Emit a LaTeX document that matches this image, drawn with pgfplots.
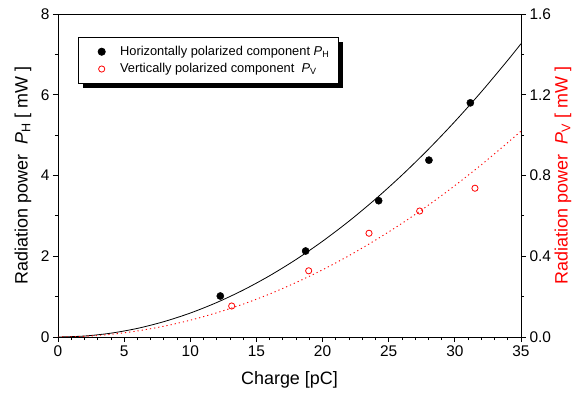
\documentclass[border=0pt]{standalone}
\usepackage{fontspec}
\setmainfont{Liberation Sans}
\usepackage{pgfplots}
\pgfplotsset{compat=1.18}
\usetikzlibrary{shadows}
\begin{document}
\begin{tikzpicture}
\useasboundingbox (-58bp,-57bp) rectangle (514bp,337bp);
\pgfplotsset{
  common/.style={
    scale only axis, width=463bp, height=323bp,
    at={(0,0)}, anchor=south west,
    xmin=0, xmax=35,
    tick align=outside,
    major tick length=5bp, minor tick length=3bp,
    tick label style={font=\fontsize{15.5}{17}\selectfont},
    label style={font=\fontsize{18}{21}\selectfont},
    /pgf/number format/assume math mode=true,
    axis line style={line width=0.8bp},
    every tick/.style={black, line width=0.8bp},
  },
  mylegimg/.style={legend image code/.code={\path (0bp,0bp) (32bp,0bp); \draw[only marks] plot coordinates {(17bp,0bp)};}},
}
\begin{axis}[common,
  ymin=0, ymax=8,
  xtick={0,5,...,35}, minor x tick num=4,
  ytick={0,2,4,6,8}, minor y tick num=1,
  xtick pos=bottom, ytick pos=left,
  xlabel={Charge [pC]},
  xlabel style={at={(axis description cs:0.5,-0.133)}, anchor=center},
  ylabel={Radiation power\ \ {\itshape P}\textsubscript{H} [ mW ]},
  ylabel style={at={(axis description cs:-0.0756,0.5)}, anchor=center},
]
\addplot[black, line width=0.8bp, smooth] coordinates {
(0,0) (2,0.024) (4,0.095) (6,0.213) (8,0.380) (10,0.593) (12,0.854) (14,1.162) (16,1.518) (18,1.921) (20,2.372) (22,2.870) (24,3.416) (26,4.009) (28,4.649) (30,5.337) (32,6.072) (34,6.855) (35,7.264)};
\addplot[only marks, mark=*, black, mark size=3.6bp] coordinates {
(12.27,1.015) (18.72,2.13) (24.24,3.376) (28.04,4.38) (31.17,5.80)};
\end{axis}
\begin{axis}[common,
  ymin=0, ymax=1.6,
  axis x line=none, axis y line*=right,
  ytick={0,0.4,0.8,1.2,1.6}, minor y tick num=1,
  yticklabel style={/pgf/number format/.cd, fixed, fixed zerofill, precision=1},
  ylabel={Radiation power\ \ {\itshape P}\textsubscript{V} [ mW ]},
  ylabel style={red, at={(axis description cs:1.0907,0.5)}, anchor=center},
  legend cell align=left,
  legend style={at={(0.043,0.929)}, anchor=north west, draw=black, line width=0.8bp,
    fill=white, font=\fontsize{12.9}{15}\selectfont,
    drop shadow={shadow xshift=4.5bp, shadow yshift=-4.5bp, fill=black, opacity=1},
    inner xsep=6bp, inner ysep=7bp, row sep=2.5bp,
    nodes={inner xsep=3bp}},
]
\addlegendimage{only marks, mark=*, black, mark size=3.6bp, mylegimg}
\addlegendentry{Horizontally polarized component {\itshape P}\textsubscript{H}}
\addplot[red, line width=0.9bp, dash pattern=on 1.2bp off 3bp, smooth, forget plot] coordinates {
(0,0) (2,0.0033) (4,0.0133) (6,0.030) (8,0.0533) (10,0.0833) (12,0.120) (14,0.163) (16,0.213) (18,0.270) (20,0.333) (22,0.403) (24,0.480) (26,0.563) (28,0.653) (30,0.750) (32,0.853) (34,0.963) (35,1.020)};
\addplot[only marks, mark=o, red, mark size=3.1bp, line width=0.8bp, mylegimg] coordinates {
(13.13,0.1536) (18.95,0.328) (23.51,0.514) (27.34,0.624) (31.52,0.737)};
\addlegendentry{Vertically polarized component\ \ {\itshape P}\textsubscript{V}}
\end{axis}
\end{tikzpicture}
\end{document}
